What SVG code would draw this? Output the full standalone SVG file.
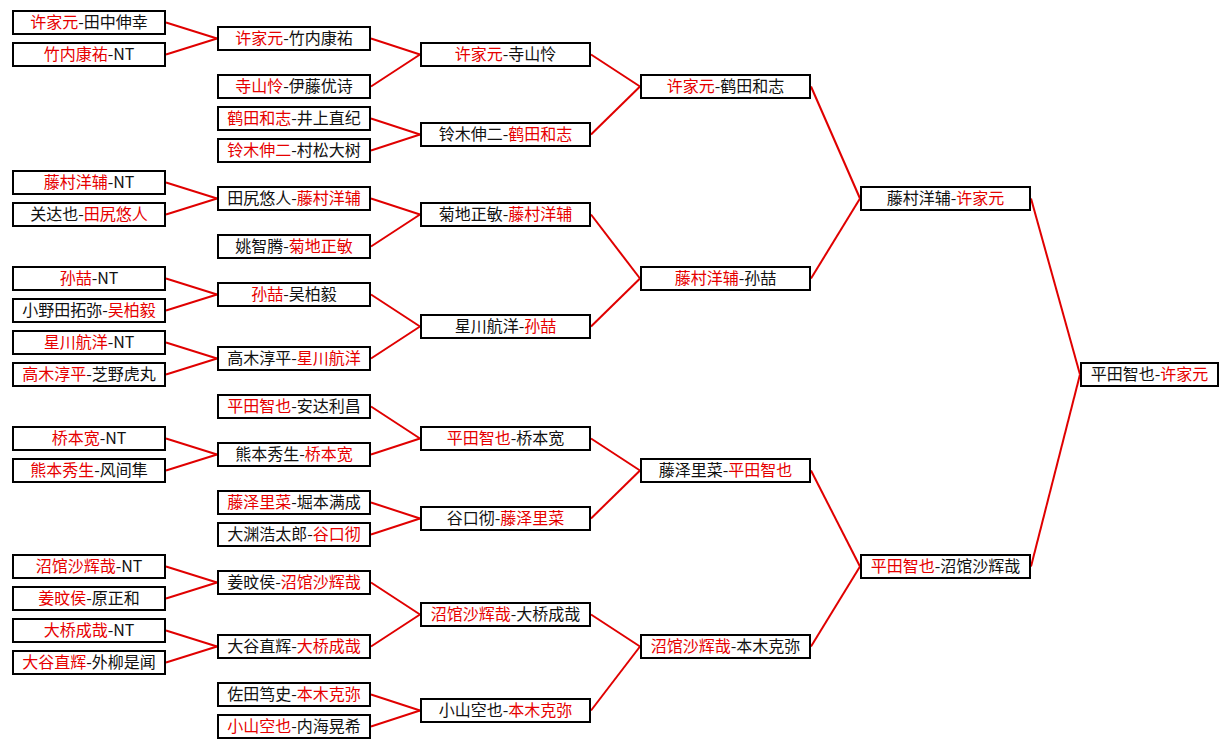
<svg xmlns="http://www.w3.org/2000/svg" width="1229" height="749" viewBox="0 0 1229 749">
<style>
.bg{fill:#fff}
.box{fill:#fff;stroke:#000;stroke-width:2}
.t{font-family:"Noto Sans CJK SC","Noto Sans CJK JP",sans-serif;font-size:16px;fill:#111;text-anchor:middle}
.r{fill:#e60000}
.edge{stroke:#e00000;stroke-width:2;fill:none}
</style>
<rect class="bg" x="0" y="0" width="1229" height="749"/>
<g id="connectors">
<line class="edge" x1="166" y1="22.5" x2="217" y2="38.5"/>
<line class="edge" x1="166" y1="54.5" x2="217" y2="38.5"/>
<line class="edge" x1="166" y1="182.5" x2="217" y2="198.5"/>
<line class="edge" x1="166" y1="214.5" x2="217" y2="198.5"/>
<line class="edge" x1="166" y1="278.5" x2="217" y2="294.5"/>
<line class="edge" x1="166" y1="310.5" x2="217" y2="294.5"/>
<line class="edge" x1="166" y1="342.5" x2="217" y2="358.5"/>
<line class="edge" x1="166" y1="374.5" x2="217" y2="358.5"/>
<line class="edge" x1="166" y1="438.5" x2="217" y2="454.5"/>
<line class="edge" x1="166" y1="470.5" x2="217" y2="454.5"/>
<line class="edge" x1="166" y1="566.5" x2="217" y2="582.5"/>
<line class="edge" x1="166" y1="598.5" x2="217" y2="582.5"/>
<line class="edge" x1="166" y1="630.5" x2="217" y2="646.5"/>
<line class="edge" x1="166" y1="662.5" x2="217" y2="646.5"/>
<line class="edge" x1="371" y1="38.5" x2="420" y2="54.5"/>
<line class="edge" x1="371" y1="86.5" x2="420" y2="54.5"/>
<line class="edge" x1="371" y1="118.5" x2="420" y2="134.5"/>
<line class="edge" x1="371" y1="150.5" x2="420" y2="134.5"/>
<line class="edge" x1="371" y1="198.5" x2="420" y2="214.5"/>
<line class="edge" x1="371" y1="246.5" x2="420" y2="214.5"/>
<line class="edge" x1="371" y1="294.5" x2="420" y2="326.5"/>
<line class="edge" x1="371" y1="358.5" x2="420" y2="326.5"/>
<line class="edge" x1="371" y1="406.5" x2="420" y2="438.5"/>
<line class="edge" x1="371" y1="454.5" x2="420" y2="438.5"/>
<line class="edge" x1="371" y1="502.5" x2="420" y2="518.5"/>
<line class="edge" x1="371" y1="534.5" x2="420" y2="518.5"/>
<line class="edge" x1="371" y1="582.5" x2="420" y2="614.5"/>
<line class="edge" x1="371" y1="646.5" x2="420" y2="614.5"/>
<line class="edge" x1="371" y1="694.5" x2="420" y2="710.5"/>
<line class="edge" x1="371" y1="726.5" x2="420" y2="710.5"/>
<line class="edge" x1="591" y1="54.5" x2="640" y2="86.5"/>
<line class="edge" x1="591" y1="134.5" x2="640" y2="86.5"/>
<line class="edge" x1="591" y1="214.5" x2="640" y2="278.5"/>
<line class="edge" x1="591" y1="326.5" x2="640" y2="278.5"/>
<line class="edge" x1="591" y1="438.5" x2="640" y2="470.5"/>
<line class="edge" x1="591" y1="518.5" x2="640" y2="470.5"/>
<line class="edge" x1="591" y1="614.5" x2="640" y2="646.5"/>
<line class="edge" x1="591" y1="710.5" x2="640" y2="646.5"/>
<line class="edge" x1="811" y1="86.5" x2="860" y2="198.5"/>
<line class="edge" x1="811" y1="278.5" x2="860" y2="198.5"/>
<line class="edge" x1="811" y1="470.5" x2="860" y2="566.5"/>
<line class="edge" x1="811" y1="646.5" x2="860" y2="566.5"/>
<line class="edge" x1="1031" y1="198.5" x2="1080" y2="374.5"/>
<line class="edge" x1="1031" y1="566.5" x2="1080" y2="374.5"/>
</g>
<!-- Column 1 -->
<g id="r1-01"><rect class="box" x="13" y="11" width="152" height="23"/><text class="t" x="89" y="28"><tspan class="r">许家元</tspan>-田中伸幸</text></g>
<g id="r1-02"><rect class="box" x="13" y="43" width="152" height="23"/><text class="t" x="89" y="60"><tspan class="r">竹内康祐</tspan>-NT</text></g>
<g id="r1-03"><rect class="box" x="13" y="171" width="152" height="23"/><text class="t" x="89" y="188"><tspan class="r">藤村洋辅</tspan>-NT</text></g>
<g id="r1-04"><rect class="box" x="13" y="203" width="152" height="23"/><text class="t" x="89" y="220">关达也-<tspan class="r">田尻悠人</tspan></text></g>
<g id="r1-05"><rect class="box" x="13" y="267" width="152" height="23"/><text class="t" x="89" y="284"><tspan class="r">孙喆</tspan>-NT</text></g>
<g id="r1-06"><rect class="box" x="13" y="299" width="152" height="23"/><text class="t" x="89" y="316">小野田拓弥-<tspan class="r">吴柏毅</tspan></text></g>
<g id="r1-07"><rect class="box" x="13" y="331" width="152" height="23"/><text class="t" x="89" y="348"><tspan class="r">星川航洋</tspan>-NT</text></g>
<g id="r1-08"><rect class="box" x="13" y="363" width="152" height="23"/><text class="t" x="89" y="380"><tspan class="r">高木淳平</tspan>-芝野虎丸</text></g>
<g id="r1-09"><rect class="box" x="13" y="427" width="152" height="23"/><text class="t" x="89" y="444"><tspan class="r">桥本宽</tspan>-NT</text></g>
<g id="r1-10"><rect class="box" x="13" y="459" width="152" height="23"/><text class="t" x="89" y="476"><tspan class="r">熊本秀生</tspan>-风间隼</text></g>
<g id="r1-11"><rect class="box" x="13" y="555" width="152" height="23"/><text class="t" x="89" y="572"><tspan class="r">沼馆沙辉哉</tspan>-NT</text></g>
<g id="r1-12"><rect class="box" x="13" y="587" width="152" height="23"/><text class="t" x="89" y="604"><tspan class="r">姜旼侯</tspan>-原正和</text></g>
<g id="r1-13"><rect class="box" x="13" y="619" width="152" height="23"/><text class="t" x="89" y="636"><tspan class="r">大桥成哉</tspan>-NT</text></g>
<g id="r1-14"><rect class="box" x="13" y="651" width="152" height="23"/><text class="t" x="89" y="668"><tspan class="r">大谷直辉</tspan>-外柳是闻</text></g>
<!-- Column 2 -->
<g id="r2-01"><rect class="box" x="218" y="27" width="152" height="23"/><text class="t" x="294" y="44"><tspan class="r">许家元</tspan>-竹内康祐</text></g>
<g id="r2-02"><rect class="box" x="218" y="75" width="152" height="23"/><text class="t" x="294" y="92"><tspan class="r">寺山怜</tspan>-伊藤优诗</text></g>
<g id="r2-03"><rect class="box" x="218" y="107" width="152" height="23"/><text class="t" x="294" y="124"><tspan class="r">鹤田和志</tspan>-井上直纪</text></g>
<g id="r2-04"><rect class="box" x="218" y="139" width="152" height="23"/><text class="t" x="294" y="156"><tspan class="r">铃木伸二</tspan>-村松大树</text></g>
<g id="r2-05"><rect class="box" x="218" y="187" width="152" height="23"/><text class="t" x="294" y="204">田尻悠人-<tspan class="r">藤村洋辅</tspan></text></g>
<g id="r2-06"><rect class="box" x="218" y="235" width="152" height="23"/><text class="t" x="294" y="252">姚智腾-<tspan class="r">菊地正敏</tspan></text></g>
<g id="r2-07"><rect class="box" x="218" y="283" width="152" height="23"/><text class="t" x="294" y="300"><tspan class="r">孙喆</tspan>-吴柏毅</text></g>
<g id="r2-08"><rect class="box" x="218" y="347" width="152" height="23"/><text class="t" x="294" y="364">高木淳平-<tspan class="r">星川航洋</tspan></text></g>
<g id="r2-09"><rect class="box" x="218" y="395" width="152" height="23"/><text class="t" x="294" y="412"><tspan class="r">平田智也</tspan>-安达利昌</text></g>
<g id="r2-10"><rect class="box" x="218" y="443" width="152" height="23"/><text class="t" x="294" y="460">熊本秀生-<tspan class="r">桥本宽</tspan></text></g>
<g id="r2-11"><rect class="box" x="218" y="491" width="152" height="23"/><text class="t" x="294" y="508"><tspan class="r">藤泽里菜</tspan>-堀本满成</text></g>
<g id="r2-12"><rect class="box" x="218" y="523" width="152" height="23"/><text class="t" x="294" y="540">大渊浩太郎-<tspan class="r">谷口彻</tspan></text></g>
<g id="r2-13"><rect class="box" x="218" y="571" width="152" height="23"/><text class="t" x="294" y="588">姜旼侯-<tspan class="r">沼馆沙辉哉</tspan></text></g>
<g id="r2-14"><rect class="box" x="218" y="635" width="152" height="23"/><text class="t" x="294" y="652">大谷直辉-<tspan class="r">大桥成哉</tspan></text></g>
<g id="r2-15"><rect class="box" x="218" y="683" width="152" height="23"/><text class="t" x="294" y="700">佐田笃史-<tspan class="r">本木克弥</tspan></text></g>
<g id="r2-16"><rect class="box" x="218" y="715" width="152" height="23"/><text class="t" x="294" y="732"><tspan class="r">小山空也</tspan>-内海晃希</text></g>
<!-- Column 3 -->
<g id="r3-01"><rect class="box" x="421" y="43" width="169" height="23"/><text class="t" x="505.5" y="60"><tspan class="r">许家元</tspan>-寺山怜</text></g>
<g id="r3-02"><rect class="box" x="421" y="123" width="169" height="23"/><text class="t" x="505.5" y="140">铃木伸二-<tspan class="r">鹤田和志</tspan></text></g>
<g id="r3-03"><rect class="box" x="421" y="203" width="169" height="23"/><text class="t" x="505.5" y="220">菊地正敏-<tspan class="r">藤村洋辅</tspan></text></g>
<g id="r3-04"><rect class="box" x="421" y="315" width="169" height="23"/><text class="t" x="505.5" y="332">星川航洋-<tspan class="r">孙喆</tspan></text></g>
<g id="r3-05"><rect class="box" x="421" y="427" width="169" height="23"/><text class="t" x="505.5" y="444"><tspan class="r">平田智也</tspan>-桥本宽</text></g>
<g id="r3-06"><rect class="box" x="421" y="507" width="169" height="23"/><text class="t" x="505.5" y="524">谷口彻-<tspan class="r">藤泽里菜</tspan></text></g>
<g id="r3-07"><rect class="box" x="421" y="603" width="169" height="23"/><text class="t" x="505.5" y="620"><tspan class="r">沼馆沙辉哉</tspan>-大桥成哉</text></g>
<g id="r3-08"><rect class="box" x="421" y="699" width="169" height="23"/><text class="t" x="505.5" y="716">小山空也-<tspan class="r">本木克弥</tspan></text></g>
<!-- Column 4 -->
<g id="r4-01"><rect class="box" x="641" y="75" width="169" height="23"/><text class="t" x="725.5" y="92"><tspan class="r">许家元</tspan>-鹤田和志</text></g>
<g id="r4-02"><rect class="box" x="641" y="267" width="169" height="23"/><text class="t" x="725.5" y="284"><tspan class="r">藤村洋辅</tspan>-孙喆</text></g>
<g id="r4-03"><rect class="box" x="641" y="459" width="169" height="23"/><text class="t" x="725.5" y="476">藤泽里菜-<tspan class="r">平田智也</tspan></text></g>
<g id="r4-04"><rect class="box" x="641" y="635" width="169" height="23"/><text class="t" x="725.5" y="652"><tspan class="r">沼馆沙辉哉</tspan>-本木克弥</text></g>
<!-- Column 5 -->
<g id="r5-01"><rect class="box" x="861" y="187" width="169" height="23"/><text class="t" x="945.5" y="204">藤村洋辅-<tspan class="r">许家元</tspan></text></g>
<g id="r5-02"><rect class="box" x="861" y="555" width="169" height="23"/><text class="t" x="945.5" y="572"><tspan class="r">平田智也</tspan>-沼馆沙辉哉</text></g>
<!-- Final -->
<g id="r6-01"><rect class="box" x="1081" y="363" width="137" height="23"/><text class="t" x="1149.5" y="380">平田智也-<tspan class="r">许家元</tspan></text></g>
</svg>
